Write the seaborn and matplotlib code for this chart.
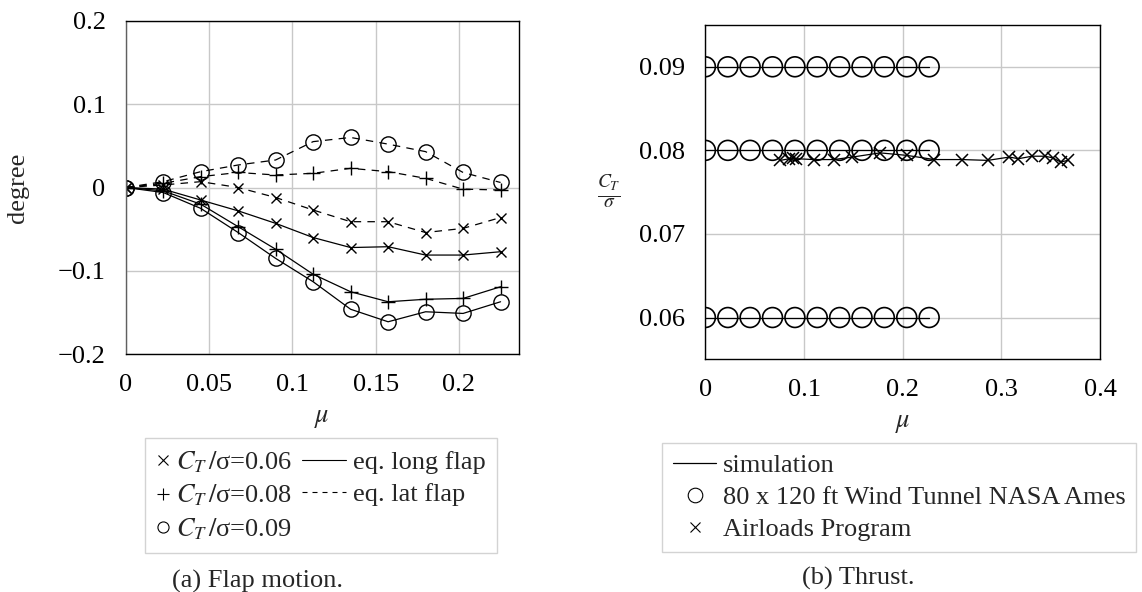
import numpy as np
import pandas as pd
import matplotlib
matplotlib.use("Agg")
import matplotlib.pyplot as plt
import seaborn as sns
from matplotlib.lines import Line2D
from matplotlib.legend_handler import HandlerLine2D

sns.set_style("white")
plt.rcParams["font.family"] = ["Liberation Serif", "DejaVu Serif"]
plt.rcParams["mathtext.fontset"] = "stix"
plt.rcParams["lines.dashed_pattern"] = [6, 5]

FS = 19

# ---------------- data: (a) flap motion ----------------
mu_a = [0, 0.0225, 0.045, 0.0675, 0.09, 0.1125, 0.135, 0.1575, 0.18, 0.2025, 0.225]
long_006 = [0, -0.002, -0.015, -0.028, -0.043, -0.060, -0.072, -0.071, -0.081, -0.081, -0.077]
long_008 = [0, -0.004, -0.020, -0.047, -0.074, -0.104, -0.125, -0.137, -0.134, -0.133, -0.119]
long_009 = [0, -0.006, -0.025, -0.054, -0.085, -0.113, -0.146, -0.161, -0.149, -0.151, -0.137]
lat_006 = [0, 0.003, 0.007, 0.000, -0.012, -0.027, -0.041, -0.041, -0.054, -0.049, -0.036]
lat_008 = [0, 0.005, 0.013, 0.018, 0.015, 0.017, 0.023, 0.019, 0.011, -0.002, -0.003]
lat_009 = [0, 0.007, 0.019, 0.027, 0.033, 0.055, 0.060, 0.052, 0.043, 0.018, 0.006]

# ---------------- data: (b) thrust ----------------
mu_b = [0, 0.0227, 0.0453, 0.068, 0.0907, 0.1133, 0.136, 0.1587, 0.1813, 0.204, 0.2267]
ct_levels = [0.06, 0.08, 0.09]
mu_air = [0.076, 0.085, 0.089, 0.092, 0.110, 0.130, 0.149, 0.177, 0.204, 0.232,
          0.260, 0.286, 0.308, 0.317, 0.331, 0.344, 0.352, 0.360, 0.367]
ct_air = [0.0788, 0.0790, 0.0791, 0.0790, 0.0789, 0.0789, 0.0792, 0.0797, 0.0794, 0.0789,
          0.0789, 0.0788, 0.0792, 0.0790, 0.0793, 0.0793, 0.0791, 0.0786, 0.0788]

W, H = 1142, 592
fig = plt.figure(figsize=(W / 100, H / 100), dpi=100)


def fx(px):
    return px / W


def fy(py):
    return 1 - py / H


axL = fig.add_axes([fx(125.7), fy(354.3), fx(518.9 - 125.7), (354.3 - 20.7) / H])
axR = fig.add_axes([fx(705.4), fy(359.3), fx(1100.2 - 705.4), (359.3 - 25) / H])

grid_c = "#c8c8c8"
for ax in (axL, axR):
    ax.grid(True, color=grid_c, linewidth=1.0)
    ax.set_axisbelow(True)
    ax.tick_params(axis="both", direction="out", length=7, width=1.0, color="#b0b0b0",
                   labelsize=FS, pad=7.5, labelcolor="black")
    for s in ax.spines.values():
        s.set_color("black")
        s.set_linewidth(1.0)
axL.spines["left"].set_color("#606060")

lw = 0.9
series = [
    (long_006, "x", 7.5, "-"),
    (long_008, "+", 9.5, "-"),
    (long_009, "o", 11, "-"),
    (lat_006, "x", 7.5, "--"),
    (lat_008, "+", 9.5, "--"),
    (lat_009, "o", 11, "--"),
]
for vals, mk, ms, ls in series:
    df = pd.DataFrame({"mu": mu_a, "val": vals})
    sns.lineplot(data=df, x="mu", y="val", ax=axL, color="black", linewidth=lw,
                 linestyle=ls, marker=mk, markersize=ms, markerfacecolor="none",
                 markeredgecolor="black", markeredgewidth=1.0, errorbar=None)

axL.set_xlim(0, 0.236)
axL.set_ylim(-0.2, 0.2)
axL.set_xticks([0, 0.05, 0.1, 0.15, 0.2])
axL.set_xticklabels(["0", "0.05", "0.1", "0.15", "0.2"])
axL.set_yticks([-0.2, -0.1, 0, 0.1, 0.2])
axL.set_yticklabels(["\u22120.2", "\u22120.1", "0", "0.1", "0.2"])
axL.set_xlabel(r"$\mu$", fontsize=FS, va="center")
axL.xaxis.set_label_coords(0.5, -0.194)
axL.set_ylabel("degree", fontsize=FS, va="center")
axL.yaxis.set_label_coords(-(125.7 - 17.5) / (518.9 - 125.7), 0.5)

# right panel
for ct in ct_levels:
    df = pd.DataFrame({"mu": mu_b, "ct": [ct] * len(mu_b)})
    sns.lineplot(data=df, x="mu", y="ct", ax=axR, color="black", linewidth=lw,
                 errorbar=None)
    sns.scatterplot(data=df, x="mu", y="ct", ax=axR, marker="o", s=205,
                    facecolors="none", edgecolors="black", linewidth=1.2, zorder=3)
dfa = pd.DataFrame({"mu": mu_air, "ct": ct_air})
sns.lineplot(data=dfa, x="mu", y="ct", ax=axR, color="black", linewidth=lw,
             marker="x", markersize=9, markeredgewidth=1.1, markeredgecolor="black",
             errorbar=None)

axR.set_xlim(0, 0.4)
axR.set_ylim(0.055, 0.095)
axR.set_xticks([0, 0.1, 0.2, 0.3, 0.4])
axR.set_xticklabels(["0", "0.1", "0.2", "0.3", "0.4"])
axR.set_yticks([0.06, 0.07, 0.08, 0.09])
axR.set_yticklabels(["0.06", "0.07", "0.08", "0.09"])
axR.set_xlabel(r"$\mu$", fontsize=FS, va="center")
axR.xaxis.set_label_coords(0.5, -0.1935)
axR.set_ylabel(r"$\frac{C_T}{\sigma}$", fontsize=FS + 1, rotation=0, va="center", ha="center")
axR.yaxis.set_label_coords(-(705.4 - 609) / (1100.2 - 705.4), 0.5)


class ShortHandler(HandlerLine2D):
    def __init__(self, width_pt, **kw):
        super().__init__(**kw)
        self.width_pt = width_pt

    def legend_artist(self, legend, orig_handle, fontsize, handlebox):
        handlebox.width = self.width_pt
        return super().legend_artist(legend, orig_handle, fontsize, handlebox)


# legends
mx = Line2D([], [], color="black", marker="x", linestyle="none", markersize=6.5,
            markeredgewidth=0.8)
mp = Line2D([], [], color="black", marker="+", linestyle="none", markersize=8.5,
            markeredgewidth=0.8)
mo = Line2D([], [], color="black", marker="o", linestyle="none", markersize=8,
            markerfacecolor="none", markeredgewidth=0.8)
ls_solid = Line2D([], [], color="black", linestyle="-", linewidth=0.8)
ls_dash = Line2D([], [], color="black", linestyle=(0, (4.5, 4.5)), linewidth=0.8)
hl = [mx, mp, mo, ls_solid, ls_dash]
ll = [r"$C_T\,/$σ=0.06", r"$C_T\,/$σ=0.08", r"$C_T\,/$σ=0.09",
      "eq. long flap", "eq. lat flap"]
sh = ShortHandler(9.0)
legL = fig.legend(hl, ll, ncol=2, loc="upper left", bbox_to_anchor=(fx(145.4), fy(438.3)),
                  fontsize=FS, frameon=True, fancybox=False, edgecolor="#c8c8c8",
                  handlelength=1.67, handletextpad=0.25, columnspacing=0.4,
                  borderpad=0.42, labelspacing=0.3, borderaxespad=0,
                  handler_map={mx: sh, mp: sh, mo: sh})
legL.get_frame().set_linewidth(1.0)

hr = [
    Line2D([], [], color="black", linestyle="-", linewidth=0.9),
    Line2D([], [], color="black", marker="o", linestyle="none", markersize=10.5,
           markerfacecolor="none", markeredgewidth=0.8),
    Line2D([], [], color="black", marker="x", linestyle="none", markersize=7,
           markeredgewidth=0.8),
]
lr = ["simulation", "80 x 120 ft Wind Tunnel NASA Ames", "Airloads Program"]
legR = fig.legend(hr, lr, loc="upper left", bbox_to_anchor=(fx(662.2), fy(443.3)),
                  fontsize=FS, frameon=True, fancybox=False, edgecolor="#c8c8c8",
                  handlelength=1.65, handletextpad=0.25, borderpad=0.4,
                  labelspacing=0.32, borderaxespad=0)
legR.get_frame().set_linewidth(1.0)

fig.text(fx(257), fy(581.7), "(a) Flap motion.", fontsize=FS, ha="center", va="center")
fig.text(fx(858.4), fy(578.3), "(b) Thrust.", fontsize=FS, ha="center", va="center")

fig.savefig("out.png", dpi=100)
